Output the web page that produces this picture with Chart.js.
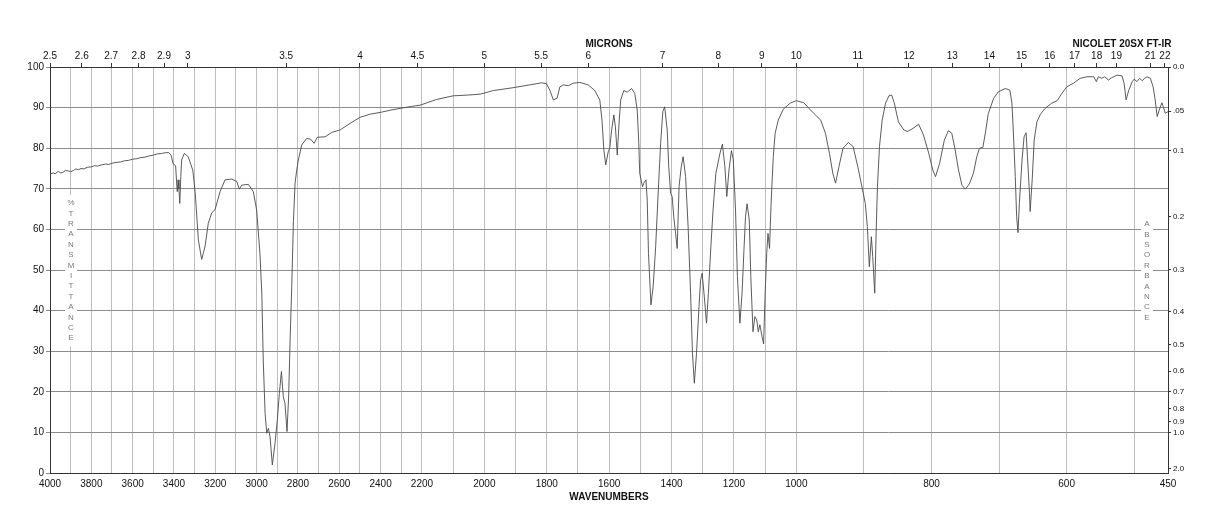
<!DOCTYPE html>
<html>
<head>
<meta charset="utf-8">
<script src="https://cdn.jsdelivr.net/npm/chart.js@4"></script>
<style>
  body { margin: 0; background: #fff; }
  canvas { display: block; }
</style>
</head>
<body>
<canvas id="irChart" width="1218" height="528"></canvas>
<script>
//spectrum data (wavenumber cm-1, %T)
const wavenumbers = [4000,3985,3975,3960,3948,3936,3925,3911,3900,3887,3875,3863,3850,3835,3820,3800,3785,3770,3750,3730,3715,3700,3680,3660,3640,3620,3600,3580,3560,3540,3520,3500,3480,3460,3440,3425,3414,3405,3392,3386,3384,3380,3376,3372,3367,3363,3350,3331,3309,3297,3282,3266,3250,3234,3217,3201,3177,3153,3121,3096,3084,3072,3040,3016,3000,2984,2975,2968,2959,2951,2943,2935,2924,2911,2900,2890,2880,2871,2863,2853,2845,2838,2830,2822,2814,2806,2798,2782,2758,2738,2722,2706,2669,2636,2596,2548,2500,2450,2403,2350,2306,2250,2209,2153,2100,2050,2014,1971,1908,1854,1817,1801,1790,1779,1767,1758,1747,1731,1715,1694,1667,1646,1630,1623,1617,1611,1603,1598,1592,1585,1580,1574,1569,1563,1553,1542,1528,1518,1510,1505,1502,1493,1489,1482,1478,1474,1466,1459,1451,1443,1435,1428,1422,1414,1409,1403,1398,1393,1387,1382,1376,1369,1363,1355,1347,1339,1333,1327,1320,1312,1307,1302,1295,1288,1282,1274,1267,1258,1245,1237,1229,1223,1216,1208,1202,1195,1189,1181,1174,1168,1163,1158,1151,1146,1139,1133,1127,1122,1117,1110,1105,1100,1095,1091,1086,1081,1074,1068,1058,1042,1020,1000,989,979,964,957,951,946,942,937,931,923,916,909,903,898,895,892,889,887,884,882,880,877,873,868,863,859,855,849,841,836,829,819,812,804,798,794,788,781,775,770,765,760,755,750,744,738,733,729,724,720,716,708,701,691,684,681,679,676,674,672,670,666,663,660,658,655,654,651,648,644,639,632,622,614,607,600,590,580,570,560,556,553,548,544,538,533,525,518,515,512,508,503,500,496,492,488,485,481,476,472,469,466,463,459,457,454,450];
const transmittance = [73.6,73.9,73.7,74.3,73.9,74.1,74.5,74.4,74.2,74.5,74.9,74.7,75.0,74.9,75.3,75.4,75.7,75.6,75.9,76.1,76.0,76.3,76.5,76.6,76.9,77.0,77.3,77.4,77.7,77.8,78.1,78.3,78.6,78.7,78.9,78.9,78.3,76.3,75.6,70.5,69.3,72.2,70.0,66.4,73.0,77.1,78.7,77.9,74.6,68.9,57.4,52.6,55.7,61.5,64.1,64.9,69.3,72.2,72.4,71.8,69.9,70.9,71.1,69.3,64.8,54.1,44.3,27.8,14.7,9.8,11.0,8.9,2.0,7.3,13.0,19.6,25.0,18.8,17.2,10.2,19.0,33.0,46.0,62.0,71.4,74.6,77.1,80.8,82.4,82.2,81.2,82.7,82.8,83.9,84.5,86.1,87.6,88.4,88.8,89.4,89.8,90.3,90.6,92.0,92.9,93.1,93.3,94.2,94.9,95.6,96.1,95.9,94.3,91.9,92.3,95.1,95.6,95.4,96.0,96.2,95.6,94.2,91.9,86.9,79.6,75.9,79.1,80.0,84.5,88.2,85.3,78.3,85.3,91.9,94.2,93.8,94.7,93.5,89.4,81.2,73.8,70.5,71.4,72.2,67.2,54.1,41.4,45.9,55.7,68.9,81.2,89.0,90.2,84.5,75.4,68.9,68.1,63.1,59.0,55.3,70.5,75.4,77.9,73.0,60.7,44.3,29.5,22.1,29.5,41.0,47.5,49.2,43.4,36.9,44.3,55.7,64.8,73.8,78.7,81.0,75.4,68.1,74.6,79.4,77.1,64.8,48.4,36.9,44.3,54.9,63.1,66.3,62.3,48.4,34.8,38.5,37.7,34.8,36.5,33.6,31.8,44.3,54.1,59.0,55.3,66.4,77.9,83.7,86.9,89.6,91.1,91.7,91.2,89.4,86.9,83.7,78.7,73.8,71.4,75.4,80.0,81.4,80.4,75.4,70.5,66.4,60.7,50.8,58.2,53.3,44.3,59.0,70.5,80.4,86.9,91.1,92.9,93.1,91.1,86.5,84.5,84.1,84.7,85.9,83.3,78.7,74.6,73.0,76.3,82.0,84.3,83.7,79.6,74.6,70.9,69.9,71.2,73.8,77.9,80.0,80.2,84.0,88.5,92.3,93.9,94.7,94.3,91.1,84.5,73.0,63.1,59.2,66.4,77.1,82.8,83.8,77.9,68.9,64.4,72.2,82.0,86.5,88.3,89.8,91.1,91.7,93.5,95.1,96.0,97.2,97.6,97.6,96.4,97.6,97.2,97.6,96.8,97.4,98.0,97.8,96.0,91.9,94.3,96.4,97.0,96.4,97.2,96.6,97.2,97.6,97.2,95.1,91.9,87.8,89.4,91.2,90.2,88.6,89.0];

//axis labels
const wnLabels = [4000,3800,3600,3400,3200,3000,2800,2600,2400,2200,2000,1800,1600,1400,1200,1000,800,600,450];
const micronLabels = [2.5,2.6,2.7,2.8,2.9,3,3.5,4,4.5,5,5.5,6,7,8,9,10,11,12,13,14,15,16,17,18,19,21,22];
const absLabels = ["0.0",".05","0.1","0.2","0.3","0.4","0.5","0.6","0.7","0.8","0.9","1.0","2.0"];
const absValues = [0,0.05,0.1,0.2,0.3,0.4,0.5,0.6,0.7,0.8,0.9,1.0,2.0];

//chart x axis is stretched in three pieces (4000-2200, 2200-1000, 1000-450)
function U(wn){
  if(wn >= 2200) return 4000 - wn;
  if(wn >= 1000) return 1800 + (2200 - wn)*1.51;
  return 1800 + 1812 + (1000 - wn)*3.27;
}
const UMAX = U(450);

//grid every 100 cm-1 plus the 450 edge
const gridWn = [];
for(let w=4000; w>=500; w-=100){ gridWn.push(w); }
gridWn.push(450);

const points = wavenumbers.map((w,i) => ({x: U(w), y: transmittance[i]}));
const FONT = "'Liberation Sans', Arial, sans-serif";

const textPlugin = {
  id: "irText",
  afterDraw(chart){
    const ctx = chart.ctx;
    ctx.save();
    ctx.fillStyle = "#111";
    ctx.textAlign = "center";
    ctx.textBaseline = "middle";
    ctx.font = "bold 10px " + FONT;
    ctx.fillText("MICRONS", 609, 44);
    ctx.fillText("NICOLET 20SX FT-IR", 1122, 44);
    ctx.fillText("WAVENUMBERS", 609, 497);

    //vertical stacked words inside the plot
    function stack(word, x, yTop){
      const step = 10.4;
      ctx.fillStyle = "#fff";
      ctx.fillRect(x - 6, yTop - 8, 12, step*(word.length-1) + 16);
      ctx.fillStyle = "#7a7a7a";
      ctx.font = "8px " + FONT;
      for(let i=0;i<word.length;i++){
        ctx.fillText(word[i], x, yTop + i*step);
      }
    }
    stack("%TRANSMITTANCE", 71, 203);
    stack("ABSORBANCE", 1147, 224);
    ctx.restore();
  }
};

new Chart("irChart", {
  type: "line",
  data: {
    datasets: [{
      data: points,
      borderColor: "#4a4a4a",
      borderWidth: 0.9,
      pointRadius: 0,
      tension: 0,
      fill: false
    }]
  },
  options: {
    responsive: false,
    animation: false,
    devicePixelRatio: 1,
    layout: { padding: 0 },
    plugins: { legend: {display: false}, tooltip: {enabled: false} },
    scales: {
      x: {
        type: "linear", position: "bottom", min: 0, max: UMAX,
        afterBuildTicks: s => { s.ticks = gridWn.map(w => ({value: U(w)})); },
        afterFit: s => { s.height = 55; },
        ticks: {
          autoSkip: false, maxRotation: 0, padding: 5, color: "#111",
          font: {family: FONT, size: 10},
          callback: (v, i) => wnLabels.includes(gridWn[i]) ? String(gridWn[i]) : ""
        },
        grid: { color: "#bdbdbd", drawTicks: false },
        border: { color: "#333" }
      },
      xTop: {
        type: "linear", position: "top", min: 0, max: UMAX,
        afterBuildTicks: s => { s.ticks = micronLabels.map(m => ({value: U(10000/m)})); },
        afterFit: s => { s.height = 67; },
        ticks: {
          autoSkip: false, maxRotation: 0, padding: 1, color: "#111",
          font: {family: FONT, size: 10},
          callback: (v, i) => String(micronLabels[i])
        },
        grid: { drawOnChartArea: false, tickLength: 4, color: "#333" },
        border: { color: "#333" }
      },
      y: {
        position: "left", min: 0, max: 100,
        afterFit: s => { s.width = 50; },
        ticks: { stepSize: 10, padding: 2, color: "#111", font: {family: FONT, size: 10} },
        grid: { color: "#8c8c8c", tickLength: 4 },
        border: { color: "#333" }
      },
      yAbs: {
        position: "right", min: 0, max: 100,
        afterBuildTicks: s => { s.ticks = absValues.map(a => ({value: 100*Math.pow(10, -a)})); },
        afterFit: s => { s.width = 50; },
        ticks: {
          autoSkip: false, padding: 2, color: "#111",
          font: {family: FONT, size: 8},
          callback: (v, i) => absLabels[i]
        },
        grid: { drawOnChartArea: false, tickLength: 3, color: "#333" },
        border: { color: "#333" }
      }
    }
  },
  plugins: [textPlugin]
});
</script>
</body>
</html>
